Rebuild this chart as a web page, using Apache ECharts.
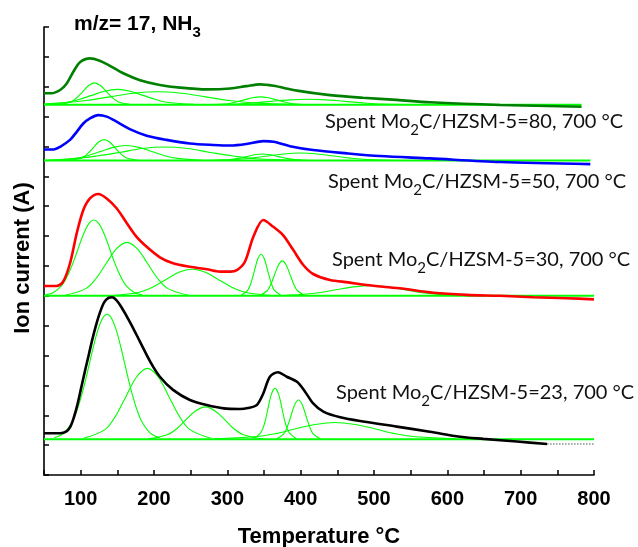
<!DOCTYPE html>
<html>
<head>
<meta charset="utf-8">
<script src="https://cdn.jsdelivr.net/npm/echarts@6/dist/echarts.min.js"></script>
<style>html,body{margin:0;padding:0;background:#fff}#c{width:638px;height:547px}</style>
</head>
<body>
<div id="c"></div>
<script>
// ---------- DATA ----------
const xTicks = [100, 200, 300, 400, 500, 600, 700, 800];
const sampleLabels = ['80', '50', '30', '23'];
const sampleColors = ['#008000', '#0000ff', '#ff0000', '#000000'];
const baselineValues = [12.4, 10.53, 6.0, 1.2];
const baselineEnds = [783, 795, 800, 800];

// main measured curves [temperature, ion current (offset units)]
const curve80 = [[50,12.78],[60,12.78],[72,12.89],[81,13.11],[90,13.50],[99,13.82],[112.7,13.95],[126,13.87],[140,13.70],[158,13.45],[181,13.22],[208,13.06],[235.5,12.97],[272,12.91],[304,12.94],[326,13.02],[344.5,13.08],[363,13.03],[395,12.87],[440,12.72],[485,12.63],[531,12.56],[576,12.48],[672,12.39],[783,12.33]];
const curve50 = [[50,10.90],[63,10.90],[72,10.99],[85.5,11.22],[94.6,11.49],[103.6,11.77],[112.7,11.94],[124,12.05],[135.5,12.00],[149,11.83],[167,11.58],[190,11.36],[217,11.22],[249,11.10],[281,11.05],[304,11.03],[326,11.08],[349,11.18],[363,11.16],[385.5,11.01],[417,10.88],[463,10.77],[508,10.68],[576,10.60],[672,10.48],[795,10.41]];
const curve30 = [[50,6.33],[67,6.33],[76,6.47],[85.5,7.09],[94.6,8.09],[103.6,8.87],[112.7,9.26],[124,9.41],[135.5,9.26],[149,8.93],[163,8.43],[176,7.98],[190,7.64],[208,7.29],[226,7.09],[249,6.97],[272,6.89],[290,6.81],[304,6.81],[313,6.86],[324,7.14],[335.5,7.98],[349,8.54],[362.7,8.31],[376,8.03],[390,7.53],[403.6,7.03],[417,6.73],[440,6.53],[465,6.45],[490,6.36],[535,6.25],[581,6.10],[626,6.03],[672,6.0],[717,5.95],[763,5.92],[800,5.88]];
const curve23 = [[50,1.40],[72,1.40],[80,1.45],[86,1.62],[91,1.95],[96,2.40],[101,2.95],[106,3.50],[111,4.02],[116,4.55],[121,5.02],[126,5.42],[132,5.78],[138,5.93],[143,5.95],[149,5.85],[155,5.64],[167,5.13],[181,4.46],[195,3.79],[208,3.29],[226,2.85],[249,2.51],[272,2.34],[295,2.23],[317,2.21],[328,2.24],[340,2.34],[349,2.73],[358,3.29],[369,3.44],[381,3.29],[395,3.12],[406,2.79],[417,2.40],[431,2.12],[454,1.93],[485,1.79],[531,1.62],[576,1.45],[617,1.28],[649,1.21],[695,1.12],[736,1.04]];
const tail23 = [[736,1.04],[800,1.04]];

// fitted peak components, heights above each baseline
const peaks80 = [
  [[71,0.01],[87,0.10],[95,0.24],[103,0.44],[111,0.64],[119,0.73],[127,0.64],[135,0.44],[143,0.24],[151,0.10],[167,0.01]],
  [[50,0.01],[80,0.07],[97.5,0.17],[115,0.31],[132.5,0.45],[150,0.51],[167.5,0.45],[185,0.31],[202.5,0.17],[220,0.07],[255,0.01]],
  [[50,0.02],[75,0.06],[107.5,0.14],[140,0.26],[172.5,0.38],[205,0.43],[237.5,0.38],[270,0.26],[302.5,0.14],[335,0.06],[400,0.0]],
  [[279,0.0],[301,0.03],[312,0.09],[323,0.16],[334,0.23],[345,0.26],[356,0.23],[367,0.16],[378,0.09],[389,0.03],[411,0.0]],
  [[260,0.0],[310,0.02],[335,0.06],[360,0.11],[385,0.16],[410,0.18],[435,0.16],[460,0.11],[485,0.06],[510,0.02],[560,0.0]]
];
const peaks50 = [
  [[87,0.01],[102,0.09],[109.5,0.23],[117,0.42],[124.5,0.62],[132,0.70],[139.5,0.62],[147,0.42],[154.5,0.23],[162,0.09],[177,0.01]],
  [[57,0.01],[92,0.07],[109.5,0.16],[127,0.30],[144.5,0.44],[162,0.50],[179.5,0.44],[197,0.30],[214.5,0.16],[232,0.07],[267,0.01]],
  [[50,0.01],[91,0.06],[122,0.15],[153,0.27],[184,0.40],[215,0.45],[246,0.40],[277,0.27],[308,0.15],[339,0.06],[401,0.01]],
  [[282,0.0],[304,0.03],[315,0.07],[326,0.13],[337,0.19],[348,0.22],[359,0.19],[370,0.13],[381,0.07],[392,0.03],[414,0.0]],
  [[265,0.0],[310,0.03],[332.5,0.08],[355,0.15],[377.5,0.22],[400,0.25],[422.5,0.22],[445,0.15],[467.5,0.08],[490,0.03],[535,0.0]]
];
const peaks30 = [
  [[52,0.03],[63,0.11],[74,0.34],[79.5,0.55],[85,0.83],[90.5,1.16],[96,1.54],[101.5,1.92],[107,2.24],[112.5,2.46],[118,2.54],[123.5,2.46],[129,2.24],[134.5,1.92],[140,1.54],[145.5,1.16],[151,0.83],[156.5,0.55],[162,0.34],[173,0.11],[184,0.03]],
  [[79,0.02],[107,0.24],[121,0.58],[135,1.09],[149,1.58],[163,1.79],[177,1.58],[191,1.09],[205,0.58],[219,0.24],[247,0.02]],
  [[144,0.01],[180,0.12],[198,0.29],[216,0.54],[234,0.79],[252,0.89],[270,0.79],[288,0.54],[306,0.29],[324,0.12],[360,0.01]],
  [[319,0.02],[328,0.19],[332.5,0.45],[337,0.84],[341.5,1.23],[346,1.39],[350.5,1.23],[355,0.84],[359.5,0.45],[364,0.19],[373,0.02]],
  [[343.5,0.01],[354,0.16],[359.25,0.38],[364.5,0.71],[369.75,1.03],[375,1.17],[380.25,1.03],[385.5,0.71],[390.75,0.38],[396,0.16],[406.5,0.01]],
  [[360,0.0],[405,0.05],[427.5,0.11],[450,0.21],[472.5,0.30],[495,0.34],[517.5,0.30],[540,0.21],[562.5,0.11],[585,0.05],[630,0.0]]
];
const peaks23 = [
  [[64,0.05],[76,0.18],[88,0.56],[94,0.90],[100,1.36],[106,1.91],[112,2.54],[118,3.16],[124,3.69],[130,4.05],[136,4.18],[142,4.05],[148,3.69],[154,3.16],[160,2.54],[166,1.91],[172,1.36],[178,0.90],[184,0.56],[196,0.18],[208,0.05]],
  [[104,0.03],[133,0.32],[147.5,0.77],[162,1.44],[176.5,2.09],[191,2.37],[205.5,2.09],[220,1.44],[234.5,0.77],[249,0.32],[278,0.03]],
  [[192,0.01],[218,0.15],[231,0.35],[244,0.66],[257,0.95],[270,1.08],[283,0.95],[296,0.66],[309,0.35],[322,0.15],[348,0.01]],
  [[336,0.02],[346,0.23],[351,0.55],[355.5,1.03],[360,1.50],[365,1.70],[370,1.50],[374.5,1.03],[379,0.55],[384,0.23],[394,0.02]],
  [[367,0.01],[377,0.18],[382,0.43],[387,0.80],[392,1.16],[397,1.31],[402,1.16],[407,0.80],[412,0.43],[417,0.18],[427,0.01]],
  [[282,0.01],[337,0.08],[364.5,0.18],[392,0.34],[419.5,0.49],[447,0.56],[474.5,0.49],[502,0.34],[529.5,0.18],[557,0.08],[612,0.01]]
];

const mainCurves = [curve80, curve50, curve30, curve23];
const peakSets = [peaks80, peaks50, peaks30, peaks23];

// ---------- BUILD ----------
const FIT = '#00ff00';
const series = [];
for (let i = 0; i < 4; i++) {
  const b = baselineValues[i];
  series.push({type:'line', data:[[50,b],[baselineEnds[i],b]], showSymbol:false, lineStyle:{color:FIT, width:2}, z:2});
  peakSets[i].forEach(pk => {
    series.push({type:'line', smooth:0.35, data: pk.map(p => [p[0], p[1] + b]), showSymbol:false, lineStyle:{color:FIT, width:1.1}, z:3});
  });
  series.push({type:'line', smooth:0.3, data: mainCurves[i], showSymbol:false, lineStyle:{color:sampleColors[i], width:2.6}, z:5});
}
series.push({type:'line', data: tail23, showSymbol:false, lineStyle:{color:'#888', width:1.5, type:'dotted'}, z:4});

const F = 'Liberation Sans, Arial, sans-serif';
const LF = 'Lato, "Open Sans", sans-serif';
function sampleText(label, x, y) {
  return {type:'text', x:x, y:y, silent:true, style:{
    text:'{a|Spent Mo}{s|2}{a|C/HZSM-5=' + label + ', 700 °C}',
    align:'left', verticalAlign:'middle',
    rich:{ a:{fontFamily:LF, fontSize:20, fill:'#111'}, s:{fontFamily:LF, fontSize:15, fill:'#111', padding:[16,0,0,0]} }
  }};
}
const labelPos = [[325,122],[328,182],[332,260],[336,393]];

const chart = echarts.init(document.getElementById('c'), null, {renderer:'canvas'});
chart.setOption({
  animation:false,
  backgroundColor:'#fff',
  grid:{left:44, right:44, top:27, bottom:72},
  xAxis:{type:'value', min:50, max:800, interval:50,
    axisLine:{lineStyle:{color:'#000', width:1.6}},
    axisTick:{inside:true, length:5, lineStyle:{color:'#000', width:1.5}},
    axisLabel:{margin:14, color:'#000', fontSize:20, fontWeight:'bold', fontFamily:F,
      formatter: v => xTicks.indexOf(v) >= 0 ? String(v) : ''},
    splitLine:{show:false}},
  yAxis:{type:'value', min:0, max:15, interval:1,
    axisLine:{show:true, lineStyle:{color:'#000', width:1.6}},
    axisTick:{show:true, inside:true, length:5, lineStyle:{color:'#000', width:1.5}},
    axisLabel:{show:false}, splitLine:{show:false}},
  series: series,
  graphic: [
    {type:'text', x:74, y:24, silent:true, style:{text:'{a|m/z= 17, NH}{s|3}', align:'left', verticalAlign:'middle',
      rich:{a:{fontFamily:F, fontSize:21, fontWeight:'bold', fill:'#000'}, s:{fontFamily:F, fontSize:15, fontWeight:'bold', fill:'#000', padding:[18,0,0,0]}}}},
    {type:'text', x:23, y:258, rotation:Math.PI/2, silent:true, style:{text:'Ion current (A)', align:'center', verticalAlign:'middle', fontFamily:F, fontSize:22, fontWeight:'bold', fill:'#000'}},
    {type:'text', x:319, y:537, silent:true, style:{text:'Temperature °C', align:'center', verticalAlign:'middle', fontFamily:F, fontSize:22, fontWeight:'bold', fill:'#000'}}
  ].concat(sampleLabels.map((l, i) => sampleText(l, labelPos[i][0], labelPos[i][1])))
});
</script>
</body>
</html>
